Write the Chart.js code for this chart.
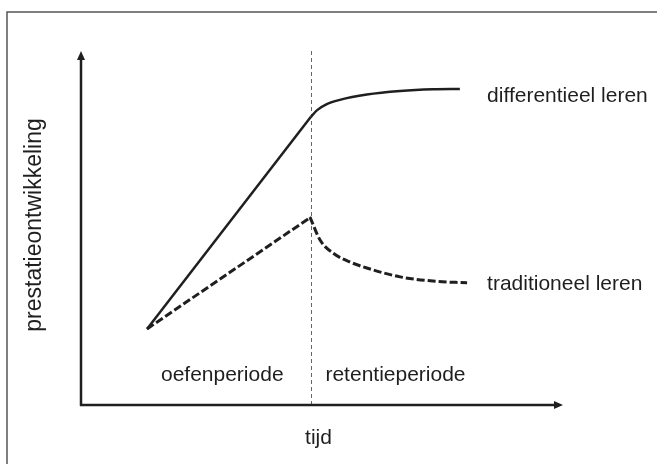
<!DOCTYPE html>
<html>
<head>
<meta charset="utf-8">
<script src="https://cdn.jsdelivr.net/npm/chart.js@4"></script>
<style>
    html, body { margin: 0; padding: 0; background: #fff; }
    #wrap { width: 657px; height: 464px; }
</style>
</head>
<body>
<div id="wrap"><canvas id="chart" width="657" height="464"></canvas></div>
<script>
// Data: time 0-10 on x, performance 0-10 on y
const practiceTime = [1.37, 4.77];
const differentialPractice = [2.15, 8.14];
const traditionalPractice = [2.15, 5.31];

const differentialTime = [4.77, 4.90, 5.10, 5.37, 5.93, 6.62, 7.30, 7.86];
const differentialRetention = [8.14, 8.33, 8.50, 8.62, 8.77, 8.87, 8.92, 8.93];

const traditionalTime = [4.75, 4.96, 5.23, 5.58, 5.93, 6.62, 7.30, 8.01];
const traditionalRetention = [5.31, 4.66, 4.29, 4.04, 3.87, 3.62, 3.50, 3.45];

const boundaryTime = 4.77;
const phaseLabels = ['oefenperiode', 'retentieperiode'];
const seriesLabels = ['differentieel leren', 'traditioneel leren'];
const xTitle = 'tijd';
const yTitle = 'prestatieontwikkeling';

const ink = '#1f1f1f';
const font = '21px "Liberation Sans", Arial, sans-serif';
const titleFont = '23px "Liberation Sans", Arial, sans-serif';

function toPoints(xs, ys) {
    return xs.map((x, i) => ({ x: x, y: ys[i] }));
}

function arrow(ctx, x, y, dir) {
    ctx.beginPath();
    if (dir === 'up') {
        ctx.moveTo(x, y);
        ctx.lineTo(x - 4, y + 9);
        ctx.lineTo(x + 4, y + 9);
    } else {
        ctx.moveTo(x, y);
        ctx.lineTo(x - 9, y - 4);
        ctx.lineTo(x - 9, y + 4);
    }
    ctx.closePath();
    ctx.fill();
}

// Frame, axes, period boundary and all text
const diagramPlugin = {
    id: 'diagram',
    beforeDatasetsDraw(chart) {
        const ctx = chart.ctx;
        const xs = chart.scales.x;
        const ys = chart.scales.y;
        const x0 = xs.getPixelForValue(0);
        const y0 = ys.getPixelForValue(0);
        const xEnd = xs.getPixelForValue(10);
        const yEnd = ys.getPixelForValue(10);
        const xb = Math.round(xs.getPixelForValue(boundaryTime)) + 0.5;

        ctx.save();
        // outer frame (top and left only)
        ctx.strokeStyle = '#555';
        ctx.lineWidth = 1.5;
        ctx.beginPath();
        ctx.moveTo(7, 464);
        ctx.lineTo(7, 12);
        ctx.lineTo(657, 12);
        ctx.stroke();

        // boundary line
        ctx.strokeStyle = '#666';
        ctx.lineWidth = 1;
        ctx.setLineDash([4, 3]);
        ctx.beginPath();
        ctx.moveTo(xb, yEnd);
        ctx.lineTo(xb, y0);
        ctx.stroke();
        ctx.setLineDash([]);

        // axes
        ctx.strokeStyle = ink;
        ctx.fillStyle = ink;
        ctx.lineWidth = 2.5;
        ctx.beginPath();
        ctx.moveTo(x0, y0 + 1);
        ctx.lineTo(x0, yEnd + 6);
        ctx.moveTo(x0 - 1, y0);
        ctx.lineTo(xEnd - 6, y0);
        ctx.stroke();
        arrow(ctx, x0, yEnd, 'up');
        arrow(ctx, xEnd, y0, 'right');

        // text
        ctx.font = font;
        ctx.fillStyle = ink;
        ctx.textBaseline = 'middle';
        ctx.textAlign = 'center';
        ctx.fillText(phaseLabels[0], (xs.getPixelForValue(practiceTime[0]) + xb) / 2 - 7, 375);
        ctx.fillText(phaseLabels[1], xb + 84, 375);
        ctx.fillText(xTitle, xb + 7, 438);

        ctx.textAlign = 'left';
        const lx = xs.getPixelForValue(traditionalTime[traditionalTime.length - 1]) + 20;
        ctx.fillText(seriesLabels[0], lx, ys.getPixelForValue(differentialRetention[differentialRetention.length - 1]) + 7);
        ctx.fillText(seriesLabels[1], lx, ys.getPixelForValue(traditionalRetention[traditionalRetention.length - 1]) + 1);

        ctx.font = titleFont;
        ctx.translate(35, 225);
        ctx.rotate(-Math.PI / 2);
        ctx.textAlign = 'center';
        ctx.fillText(yTitle, 0, 0);
        ctx.restore();
    }
};

const solid = { borderColor: ink, borderWidth: 2.5, pointRadius: 0, fill: false };
const dashed = { borderColor: ink, borderWidth: 3, borderDash: [8, 3], pointRadius: 0, fill: false };

new Chart(document.getElementById('chart'), {
    type: 'line',
    data: {
        datasets: [
            Object.assign({ label: seriesLabels[0], data: toPoints(practiceTime, differentialPractice), tension: 0 }, solid),
            Object.assign({ label: seriesLabels[0], data: toPoints(differentialTime, differentialRetention), cubicInterpolationMode: 'monotone' }, solid),
            Object.assign({ label: seriesLabels[1], data: toPoints(practiceTime, traditionalPractice), tension: 0 }, dashed),
            Object.assign({ label: seriesLabels[1], data: toPoints(traditionalTime, traditionalRetention), cubicInterpolationMode: 'monotone' }, dashed)
        ]
    },
    options: {
        responsive: false,
        animation: false,
        layout: { padding: { left: 81, right: 94, top: 51, bottom: 59 } },
        plugins: { legend: { display: false }, tooltip: { enabled: false } },
        scales: {
            x: { type: 'linear', min: 0, max: 10, display: false },
            y: { type: 'linear', min: 0, max: 10, display: false }
        }
    },
    plugins: [diagramPlugin]
});
</script>
</body>
</html>
